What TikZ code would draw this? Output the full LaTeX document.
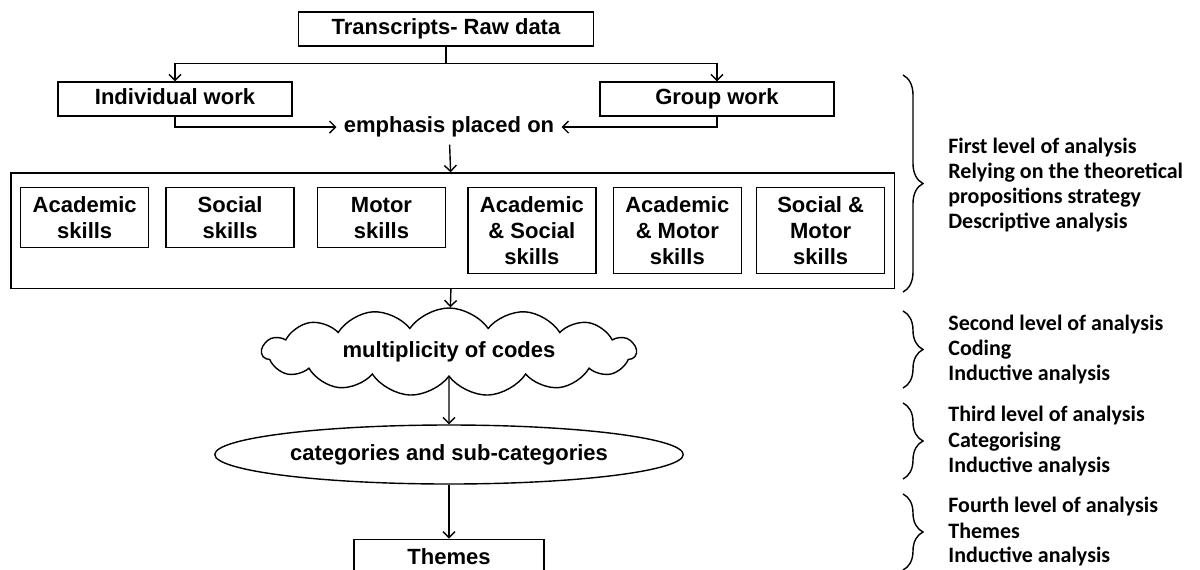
\documentclass[tikz,border=0pt]{standalone}
\usepackage{fontspec}
\setmainfont{Liberation Sans}
\newfontfamily\notefont{Carlito}
\usetikzlibrary{shapes.geometric, shapes.symbols, fit, positioning, arrows.meta, decorations.pathreplacing}

\begin{document}
\begin{tikzpicture}[
        x=0.5pt, y=-0.5pt,
        line width=0.7pt,
        >={Straight Barb[length=3pt, width=6pt]},
        every node/.style={font=\bfseries\fontsize{11}{13}\selectfont},
        box/.style={draw, rectangle, minimum height=17pt, text height=8pt, text depth=2.3pt},
        skill/.style={draw, rectangle, align=center, minimum width=64pt, anchor=north west},
        twoline/.style={minimum height=30pt},
        threeline/.style={minimum height=43pt},
        level/.style={font=\notefont\bfseries\fontsize{11}{12.5}\selectfont, align=left, anchor=west},
        levelbrace/.style={decorate, decoration={brace, amplitude=10pt}},
    ]
        \useasboundingbox (0,0) rectangle (1200,569);

        \node[box, minimum width=147.5pt] (raw) at (446,29) {Transcripts- Raw data};
        \coordinate[below=8.5pt of raw.south] (split);
        \node[box, minimum width=117pt] (indiv) at (175,99) {Individual work};
        \node[box, minimum width=117pt] (group) at (717,99) {Group work};
        \draw (raw.south) -- (split);
        \draw[->] (split) -| (indiv.north);
        \draw[->] (split) -| (group.north);

        \node (emph) at (449,127) {emphasis placed on};
        \draw[->] (indiv.south) |- (emph);
        \draw[->] (group.south) |- (emph);

        % the six skill boxes, tops aligned
        \node[skill, twoline] (acad) at (20,187) {Academic\\skills};
        \node[skill, twoline, right=8pt of acad.north east, anchor=north west] (soc) {Social\\skills};
        \node[skill, twoline, right=11pt of soc.north east, anchor=north west] (mot) {Motor\\skills};
        \node[skill, threeline, right=10.5pt of mot.north east, anchor=north west] (acso) {Academic\\\& Social\\skills};
        \node[skill, threeline, right=8pt of acso.north east, anchor=north west] (acmo) {Academic\\\& Motor\\skills};
        \node[skill, threeline, right=7pt of acmo.north east, anchor=north west] (somo) {Social \&\\Motor\\skills};
        \node[draw, inner xsep=4.5pt, inner ysep=7pt,
          fit={(acad) (acso) (somo)}] (skills) {};
        \draw[->] (emph) -- (skills);

        \node[cloud, draw, cloud puffs=15, cloud puff arc=110, cloud ignores aspect,
          minimum width=187pt, minimum height=44pt,
          label=center:{multiplicity of codes}] (codes) at (449,352) {};
        \node[ellipse, draw, minimum width=226pt, minimum height=29.5pt] (cats) at (449,454.5) {categories and sub-categories};
        \node[box, minimum width=95pt, minimum height=19pt, below=27pt of cats] (themes) {Themes};
        \draw[->] (skills) -- (codes);
        \draw[->] (codes) -- (cats);
        \draw[->] (cats) -- (themes);

        % levels of analysis
        \draw[levelbrace] (903,75) -- (903,292)
          node[level, midway, right=19pt, yshift=-1pt] (first) {First level of analysis\\Relying on the theoretical\\propositions strategy\\Descriptive analysis};
        \draw[levelbrace] (903,311) -- (903,388)
          node[level, midway, right=19pt] (second) {Second level of analysis\\Coding\\Inductive analysis};
        \draw[levelbrace] (903,403) -- (903,479)
          node[level, midway, right=19pt] (third) {Third level of analysis\\Categorising\\Inductive analysis};
        \draw[levelbrace] (903,494) -- (903,570)
          node[level, midway, right=19pt] (fourth) {Fourth level of analysis\\Themes\\Inductive analysis};
    \end{tikzpicture}
\end{document}
